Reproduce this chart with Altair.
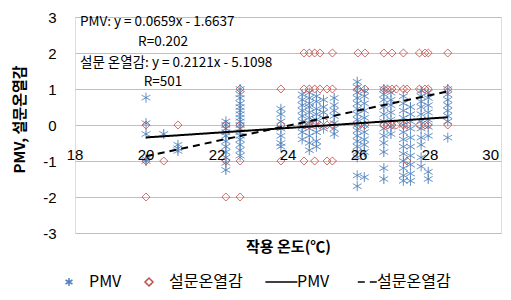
import altair as alt
import pandas as pd

FONT = "Noto Sans CJK KR"
NUM_FONT = "Liberation Sans"

# PMV (blue asterisks): (operative temperature, list of PMV values)
pmv_columns = [
    (20.0, [0.76, 0.05, -0.25, -0.95, -1.0]),
    (20.5, [-0.25]),
    (20.9, [-0.55, -0.65, -0.72]),
    (22.25, [0.1, 0.0, -0.1, -0.2, -0.3, -0.45, -0.6, -0.75, -0.9, -1.05, -1.25]),
    (22.65, [1.0, 0.85, 0.75, 0.6, 0.5, 0.4, 0.3, 0.2, 0.1, 0.0, -0.1, -0.2, -0.3, -0.4, -0.55, -0.7, -0.85]),
    (23.8, [0.45, 0.3, 0.1, -0.1, -0.3, -0.5, -0.6]),
    (24.4, [0.85, 0.7, 0.55, 0.4, 0.25, 0.1, -0.05, -0.2, -0.4]),
    (24.6, [0.9, 0.75, 0.6, 0.5, 0.35, 0.2, 0.05, -0.1, -0.3, -0.5, -0.7]),
    (24.8, [0.8, 0.65, 0.45, 0.3, 0.15, 0.0, -0.2, -0.45, -0.6]),
    (25.0, [0.7, 0.5, 0.35, 0.2, -0.1]),
    (25.3, [0.75, 0.55, 0.4, 0.25, 0.05, -0.1, -0.25]),
    (25.95, [1.2, 1.05, 0.9, 0.75, 0.6, 0.45, 0.3, 0.15, 0.0, -0.15, -0.3, -0.45, -0.6, -0.75, -0.9, -1.4, -1.7]),
    (26.15, [0.95, 0.8, 0.6, 0.4, 0.2, 0.0, -0.2, -0.4, -0.55, -0.75, -1.45]),
    (26.7, [1.0, 0.85, 0.7, 0.5, 0.3, 0.1, -0.1, -0.3, -0.5, -0.75, -1.2, -1.5]),
    (26.9, [0.9, 0.7, 0.55, 0.35, 0.15, -0.05, -0.25]),
    (27.25, [0.8, 0.6, 0.4, 0.2, 0.0, -0.2, -0.4, -0.6, -0.8, -1.0, -1.2, -1.4, -1.55]),
    (27.45, [0.5, 0.3, 0.1, -0.1, -0.35, -0.6, -0.85, -1.1, -1.35, -1.55]),
    (27.75, [0.95, 0.8, 0.65, 0.5, 0.3, 0.1, -0.1, -0.35, -0.55, -0.9, -1.15]),
    (27.95, [0.9, 0.75, 0.55, 0.35, 0.15, -0.05, -0.3, -1.3, -1.5]),
    (28.5, [1.0, 0.85, 0.7, 0.55, 0.4, 0.25, 0.1, -0.35]),
]

# Survey thermal sensation (red diamonds)
survey_columns = [
    (20.0, [0, -1, -2]),
    (20.5, [-1]),
    (20.9, [0]),
    (22.25, [0, -1, -2]),
    (22.65, [1, 0, -1, -2]),
    (23.8, [1, 0, -1]),
    (24.45, [2, 1, 0, -1]),
    (24.6, [2, 1, 0]),
    (24.75, [2, 1, 0, -1]),
    (24.9, [2, 1, 0]),
    (25.1, [1, 0, -1]),
    (25.25, [2, 1, 0, -1]),
    (25.97, [2, 1, 0]),
    (26.17, [2, 1, 0]),
    (26.7, [2, 1, 0]),
    (26.8, [1, 0]),
    (26.93, [2, 1, 0]),
    (27.05, [1, 0]),
    (27.25, [2, 1, 0]),
    (27.35, [1, 0, -1]),
    (27.7, [2, 1, 0]),
    (27.86, [2, 1, 0]),
    (27.95, [2, 1, 0]),
    (28.5, [2, 1, 0]),
]

x_ticks = [18, 20, 22, 24, 26, 28]
x_last_tick = [30]
y_ticks = [-3, -2, -1, 0, 1, 2, 3]
pmv_fit = (0.0659, -1.6637)
survey_fit = (0.2121, -5.1098)
fit_range = [20.0, 28.5]
annotations = ["PMV: y = 0.0659x - 1.6637", "R=0.202",
               "설문 온열감: y = 0.2121x - 5.1098", "R=501"]

series = ["PMV", "설문온열감", "PMV_line", "설문온열감_line"]

pmv_df = pd.DataFrame([(t, v, "PMV") for t, vals in pmv_columns for v in vals],
                      columns=["temp", "val", "series"])
sur_df = pd.DataFrame([(t, v, "설문온열감") for t, vals in survey_columns for v in vals],
                      columns=["temp", "val", "series"])
line_rows = []
for name, (a, b) in [("PMV_line", pmv_fit), ("설문온열감_line", survey_fit)]:
    for t in fit_range:
        line_rows.append((t, a * t + b, name))
line_df = pd.DataFrame(line_rows, columns=["temp", "val", "series"])

ASTER = "M0,-1L0,1M-0.87,-0.5L0.87,0.5M-0.87,0.5L0.87,-0.5"
LINE_SYM = "M-2.9,0L5.1,0"
DASH_SYM = "M0.2,0L5.1,0"

xscale = alt.Scale(domain=[18, 30], nice=False, zero=False)
yscale = alt.Scale(domain=[-3, 3], nice=False)
color_scale = alt.Scale(domain=series, range=["#4F81BD", "#C0504D", "#000000", "#000000"])
shape_scale = alt.Scale(domain=series, range=[ASTER, "diamond", LINE_SYM, DASH_SYM])
dash_scale = alt.Scale(domain=series, range=[[1, 0], [1, 0], [1, 0], [7, 5]])

legend = alt.Legend(title=None, orient="none", legendX=-14, legendY=257,
                    direction="horizontal", symbolSize=64, labelOffset=12,
                    columnPadding=19, labelFontSize=16, labelFont=FONT,
                    labelColor="#000000", symbolStrokeWidth=1.5,
                    labelExpr="replace(datum.label, '_line', '')")

xaxis = alt.Axis(labels=False, ticks=False, domain=False, grid=False,
                 title="작용 온도(℃)", titleFont=FONT, titleFontSize=15,
                 titleFontWeight="bold", titleColor="#000000", titlePadding=6)
yaxis = alt.Axis(values=y_ticks, grid=True, gridColor="#BFBFBF", gridWidth=1,
                 domain=False, ticks=False, labelPadding=19, labelFontSize=15,
                 labelFont=NUM_FONT, labelColor="#000000",
                 labelExpr="replace(datum.label, '\u2212', '-')",
                 title="PMV, 설문온열감", titleFont=FONT, titleFontSize=15,
                 titleFontWeight="bold", titleColor="#000000",
                 titleX=-56, titleY=102, titleAngle=-90, titleAlign="center",
                 titleBaseline="middle")


def enc(chart):
    return chart.encode(
        x=alt.X("temp:Q", scale=xscale, axis=xaxis),
        y=alt.Y("val:Q", scale=yscale, axis=yaxis),
        color=alt.Color("series:N", scale=color_scale, legend=legend),
        shape=alt.Shape("series:N", scale=shape_scale, legend=legend),
        strokeDash=alt.StrokeDash("series:N", scale=dash_scale, legend=legend),
    )


pmv_pts = enc(alt.Chart(pmv_df).mark_point(filled=False, size=100, strokeWidth=1, opacity=1))
sur_pts = enc(alt.Chart(sur_df).mark_point(filled=False, size=64, strokeWidth=1, opacity=1))
lines = alt.Chart(line_df).mark_line(strokeWidth=2).encode(
    x=alt.X("temp:Q", scale=xscale, axis=xaxis),
    y=alt.Y("val:Q", scale=yscale, axis=yaxis),
    color=alt.Color("series:N", scale=color_scale, legend=legend),
    strokeDash=alt.StrokeDash("series:N", scale=dash_scale, legend=legend),
    detail="series:N",
)

xlabels = alt.Chart(pd.DataFrame({"t": x_ticks})).mark_text(
    fontSize=15, font=NUM_FONT, color="#000000", baseline="middle").encode(
    x=alt.X("t:Q", scale=xscale, axis=xaxis),
    y=alt.value(138),
    text=alt.Text("t:Q"),
)
xlabel_last = alt.Chart(pd.DataFrame({"t": x_last_tick})).mark_text(
    fontSize=15, font=NUM_FONT, color="#000000", baseline="middle", align="right", dx=-2).encode(
    x=alt.X("t:Q", scale=xscale, axis=xaxis),
    y=alt.value(138),
    text=alt.Text("t:Q"),
)

ann_style = dict(font=FONT, fontSize=13.5, color="#000000", baseline="middle")
ann1 = alt.Chart().mark_text(text=annotations[0], align="left", **ann_style).encode(
    x=alt.value(5), y=alt.value(5))
ann2 = alt.Chart().mark_text(text=annotations[1], align="center", **ann_style).encode(
    x=alt.value(88), y=alt.value(25))
ann3 = alt.Chart().mark_text(text=annotations[2], align="left", **ann_style).encode(
    x=alt.value(5), y=alt.value(46))
ann4 = alt.Chart().mark_text(text=annotations[3], align="center", **ann_style).encode(
    x=alt.value(88), y=alt.value(65))

chart = alt.layer(pmv_pts, sur_pts, lines, xlabels, xlabel_last,
                  ann1, ann2, ann3, ann4).properties(
    width=426, height=216,
    autosize=alt.AutoSizeParams(type="none"),
    padding={"left": 67, "top": 9, "right": 2, "bottom": 59},
).configure_view(stroke="#595959", strokeWidth=1).configure(background="white")

chart.save("out.html", embed_options={"renderer": "svg", "actions": False})
